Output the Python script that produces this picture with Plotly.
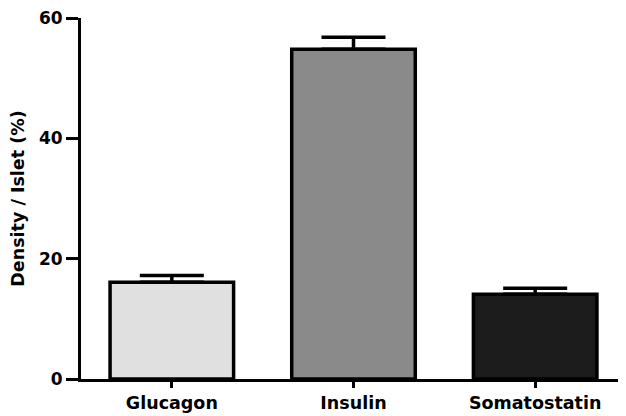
import plotly.graph_objects as go

categories = ["Glucagon", "Insulin", "Somatostatin"]
values = [16.1, 54.8, 14.1]
errors = [1.1, 2.0, 1.0]
colors = ["#e0e0e0", "#8a8a8a", "#1c1c1c"]
y_ticks = [0, 20, 40, 60]

FONT = "DejaVu Sans, Liberation Sans, Arial, sans-serif"

fig = go.Figure()
fig.add_trace(go.Bar(
    x=categories, y=values, width=0.68,
    marker=dict(color=colors, line=dict(color="black", width=3.5)),
    error_y=dict(type="data", array=errors, arrayminus=[0, 0, 0], symmetric=False,
                 color="black", thickness=3.5, width=32),
))
fig.update_layout(
    width=618, height=408,
    margin=dict(l=73, r=0, t=8, b=37),
    plot_bgcolor="white", paper_bgcolor="white",
    showlegend=False,
    font=dict(family=FONT, color="black"),
)
fig.update_xaxes(
    range=[-0.5, 2.5], showline=True, linecolor="black", linewidth=3,
    ticks="outside", ticklen=6, tickwidth=2.5, tickcolor="black",
    tickfont=dict(size=17.5, family=FONT, weight="bold"),
    ticklabeloverflow="allow",
    showgrid=False, zeroline=False,
)
fig.update_yaxes(
    range=[0, 60], tickvals=y_ticks, showline=True, linecolor="black", linewidth=3,
    ticks="outside", ticklen=12, tickwidth=2.5, tickcolor="black",
    tickfont=dict(size=17, family=FONT, weight="bold"),
    ticklabeloverflow="allow",
    title=dict(text="Density / Islet (%)", font=dict(size=17.5, family=FONT, weight="bold"), standoff=10),
    showgrid=False, zeroline=False,
)
fig.write_html("out.html")
